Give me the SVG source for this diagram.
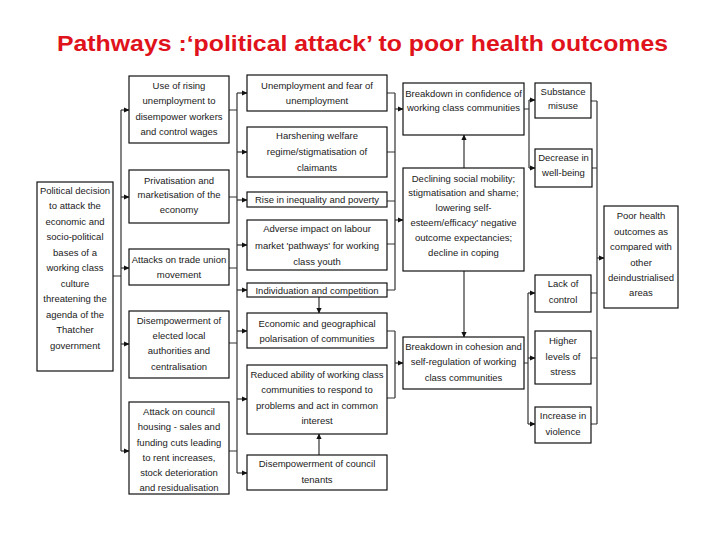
<svg xmlns="http://www.w3.org/2000/svg" width="728" height="546" viewBox="0 0 728 546">
<defs>
<style>
.bx{fill:#fff;stroke:#111;stroke-width:1.2}
.t{font-family:"Liberation Sans",Arial,sans-serif;font-size:9.5px;fill:#1a1a1a;text-anchor:middle}
.c{fill:none;stroke:#333;stroke-width:1.2}
.ar{fill:none;stroke:#333;stroke-width:1.2;marker-end:url(#a)}
.title{font-family:"Liberation Sans",Arial,sans-serif;font-size:22px;font-weight:bold;fill:#e0121b}
</style>
<marker id="a" markerWidth="6" markerHeight="6" refX="5" refY="3" orient="auto" markerUnits="userSpaceOnUse"><path d="M0,0.4 L5.5,3 L0,5.6Z" fill="#111"/></marker>
</defs>
<rect width="728" height="546" fill="#fff"/>
<text class="title" x="57" y="51" textLength="611" lengthAdjust="spacingAndGlyphs">Pathways :‘political attack’ to poor health outcomes</text>

<g id="connectors">
<path class="c" d="M113,276 H121 M121,110 V451"/>
<path class="ar" d="M121,110 H129"/>
<path class="ar" d="M121,197 H129"/>
<path class="ar" d="M121,268 H129"/>
<path class="ar" d="M121,344 H129"/>
<path class="ar" d="M121,451 H129"/>
<path class="c" d="M229,110 H237 M229,197 H237 M229,268 H237 M229,343 H237 M229,451 H237 M237,93 V473"/>
<path class="ar" d="M237,93 H247"/>
<path class="ar" d="M237,152 H247"/>
<path class="ar" d="M237,200 H247"/>
<path class="ar" d="M237,245 H247"/>
<path class="ar" d="M237,290 H247"/>
<path class="ar" d="M237,331 H247"/>
<path class="ar" d="M237,399 H247"/>
<path class="ar" d="M237,473 H247"/>
<path class="ar" d="M319,297 V313"/>
<path class="ar" d="M319,455 V434"/>
<path class="c" d="M387,93 H395 M387,152 H395 M387,201 H395 M387,244 H395 M387,290 H395 M395,93 V290"/>
<path class="ar" d="M395,109 H403"/>
<path class="ar" d="M395,220 H403"/>
<path class="c" d="M387,331 H395 M387,398 H395 M395,331 V398"/>
<path class="ar" d="M395,363 H403"/>
<path class="ar" d="M464,168 V135"/>
<path class="ar" d="M464,271 V337"/>
<path class="c" d="M524,109 H529 M529,100 V168"/>
<path class="ar" d="M529,100 H535"/>
<path class="ar" d="M529,168 H535"/>
<path class="c" d="M524,363 H528 M528,293 V424"/>
<path class="ar" d="M528,293 H535"/>
<path class="ar" d="M528,358 H535"/>
<path class="ar" d="M528,424 H535"/>
<path class="c" d="M591,101 H597 M592,168 H597 M591,293 H597 M591,358 H597 M591,424 H597 M597,101 V424"/>
<path class="ar" d="M597,258 H604"/>
</g>

<g id="n-political">
<rect class="bx" x="37" y="182" width="76" height="189"/>
<text class="t"><tspan x="75" y="193.5">Political decision</tspan><tspan x="75" y="209">to attack the</tspan><tspan x="75" y="224.5">economic and</tspan><tspan x="75" y="240">socio-political</tspan><tspan x="75" y="255.5">bases of a</tspan><tspan x="75" y="271">working class</tspan><tspan x="75" y="286.5">culture</tspan><tspan x="75" y="302">threatening the</tspan><tspan x="75" y="317.5">agenda of the</tspan><tspan x="75" y="333">Thatcher</tspan><tspan x="75" y="348.5">government</tspan></text>
</g>

<g id="n-rising">
<rect class="bx" x="129" y="76" width="100" height="67"/>
<text class="t"><tspan x="179" y="88.5">Use of rising</tspan><tspan x="179" y="103.5">unemployment to</tspan><tspan x="179" y="119.5">disempower workers</tspan><tspan x="179" y="134.5">and control wages</tspan></text>
</g>
<g id="n-privatisation">
<rect class="bx" x="129" y="170" width="100" height="53"/>
<text class="t"><tspan x="179" y="183.5">Privatisation and</tspan><tspan x="179" y="197.5">marketisation of the</tspan><tspan x="179" y="212.5">economy</tspan></text>
</g>
<g id="n-tradeunion">
<rect class="bx" x="129" y="249" width="100" height="36"/>
<text class="t"><tspan x="179" y="262.5">Attacks on trade union</tspan><tspan x="179" y="277.5">movement</tspan></text>
</g>
<g id="n-localauth">
<rect class="bx" x="129" y="311" width="100" height="67"/>
<text class="t"><tspan x="179" y="323.5">Disempowerment of</tspan><tspan x="179" y="338.5">elected local</tspan><tspan x="179" y="353.5">authorities and</tspan><tspan x="179" y="369.5">centralisation</tspan></text>
</g>
<g id="n-housing">
<rect class="bx" x="129" y="402" width="100" height="92"/>
<text class="t"><tspan x="179" y="414.5">Attack on council</tspan><tspan x="179" y="429.5">housing - sales and</tspan><tspan x="179" y="445.5">funding cuts leading</tspan><tspan x="179" y="460.5">to rent increases,</tspan><tspan x="179" y="475.5">stock deterioration</tspan><tspan x="179" y="491">and residualisation</tspan></text>
</g>

<g id="n-unemployment">
<rect class="bx" x="247" y="75" width="140" height="36"/>
<text class="t"><tspan x="317" y="88.5">Unemployment and fear of</tspan><tspan x="317" y="103.5">unemployment</tspan></text>
</g>
<g id="n-welfare">
<rect class="bx" x="247" y="127" width="140" height="50"/>
<text class="t"><tspan x="317" y="138.5">Harshening welfare</tspan><tspan x="317" y="154.5">regime/stigmatisation of</tspan><tspan x="317" y="170.5">claimants</tspan></text>
</g>
<g id="n-inequality">
<rect class="bx" x="247" y="192" width="140" height="15"/>
<text class="t" x="317" y="203.3">Rise in inequality and poverty</text>
</g>
<g id="n-labour">
<rect class="bx" x="247" y="220" width="140" height="50"/>
<text class="t"><tspan x="317" y="232">Adverse impact on labour</tspan><tspan x="317" y="248.5" textLength="124">market 'pathways' for working</tspan><tspan x="317" y="264.5">class youth</tspan></text>
</g>
<g id="n-individuation">
<rect class="bx" x="247" y="283" width="140" height="14"/>
<text class="t" x="317" y="293.5">Individuation and competition</text>
</g>
<g id="n-polarisation">
<rect class="bx" x="247" y="313" width="140" height="35"/>
<text class="t"><tspan x="317" y="326.5">Economic and geographical</tspan><tspan x="317" y="341.5">polarisation of communities</tspan></text>
</g>
<g id="n-reduced">
<rect class="bx" x="247" y="365" width="140" height="69"/>
<text class="t"><tspan x="317" y="377.5" textLength="133">Reduced ability of working class</tspan><tspan x="317" y="392.5">communities to respond to</tspan><tspan x="317" y="408.5">problems and act in common</tspan><tspan x="317" y="423.5">interest</tspan></text>
</g>
<g id="n-tenants">
<rect class="bx" x="247" y="455" width="140" height="35"/>
<text class="t"><tspan x="317" y="466.5">Disempowerment of  council</tspan><tspan x="317" y="482.5">tenants</tspan></text>
</g>

<g id="n-confidence">
<rect class="bx" x="403" y="83" width="121" height="52"/>
<text class="t"><tspan x="463.5" y="96.5">Breakdown in confidence of</tspan><tspan x="463.5" y="110.5">working class communities</tspan></text>
</g>
<g id="n-declining">
<rect class="bx" x="403" y="168" width="121" height="103"/>
<text class="t"><tspan x="463.5" y="181.5">Declining social mobility;</tspan><tspan x="463.5" y="195.5">stigmatisation and shame;</tspan><tspan x="463.5" y="210.5">lowering self-</tspan><tspan x="463.5" y="225.5">esteem/efficacy' negative</tspan><tspan x="463.5" y="240.5">outcome expectancies;</tspan><tspan x="463.5" y="255.5">decline in coping</tspan></text>
</g>
<g id="n-cohesion">
<rect class="bx" x="403" y="337" width="121" height="52"/>
<text class="t"><tspan x="463.5" y="349.5">Breakdown in cohesion and</tspan><tspan x="463.5" y="364.5">self-regulation of working</tspan><tspan x="463.5" y="380.5">class communities</tspan></text>
</g>

<g id="n-substance">
<rect class="bx" x="535" y="83" width="56" height="35"/>
<text class="t"><tspan x="563" y="94.5">Substance</tspan><tspan x="563" y="108.5">misuse</tspan></text>
</g>
<g id="n-wellbeing">
<rect class="bx" x="535" y="149" width="57" height="38"/>
<text class="t"><tspan x="563.5" y="160.5">Decrease in</tspan><tspan x="563.5" y="175.5">well-being</tspan></text>
</g>
<g id="n-control">
<rect class="bx" x="535" y="275" width="56" height="37"/>
<text class="t"><tspan x="563" y="286.5">Lack of</tspan><tspan x="563" y="302.5">control</tspan></text>
</g>
<g id="n-stress">
<rect class="bx" x="535" y="331" width="56" height="53"/>
<text class="t"><tspan x="563" y="343.5">Higher</tspan><tspan x="563" y="359.5">levels of</tspan><tspan x="563" y="374.5">stress</tspan></text>
</g>
<g id="n-violence">
<rect class="bx" x="535" y="407" width="56" height="36"/>
<text class="t"><tspan x="563" y="418.5">Increase in</tspan><tspan x="563" y="434.5">violence</tspan></text>
</g>

<g id="n-outcomes">
<rect class="bx" x="604" y="206" width="74" height="102"/>
<text class="t"><tspan x="641" y="218.5">Poor health</tspan><tspan x="641" y="234.5">outcomes as</tspan><tspan x="641" y="249.5">compared with</tspan><tspan x="641" y="265.5">other</tspan><tspan x="641" y="280.5">deindustrialised</tspan><tspan x="641" y="295.5">areas</tspan></text>
</g>
</svg>
